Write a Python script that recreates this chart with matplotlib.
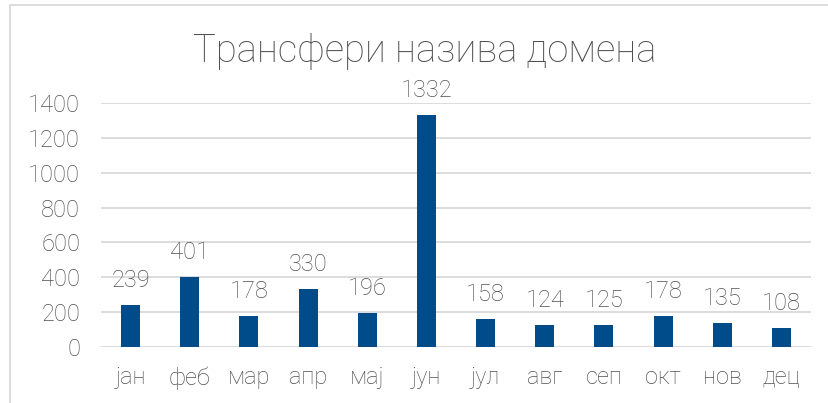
import matplotlib
matplotlib.use("Agg")
import matplotlib.pyplot as plt
from matplotlib.patches import Rectangle

plt.rcParams['font.family'] = ['Roboto', 'DejaVu Sans']
plt.rcParams['font.weight'] = 'light'

# подаци
months = ["јан", "феб", "мар", "апр", "мај", "јун", "јул", "авг", "сеп", "окт", "нов", "дец"]
transfers = [239, 401, 178, 330, 196, 1332, 158, 124, 125, 178, 135, 108]
yticks = [0, 200, 400, 600, 800, 1000, 1200, 1400]

barColor = "#004C8A"
textColor = "#505050"
gridColor = "#D9D9D9"

fig = plt.figure(figsize=(8.29, 4.03), dpi=100)
ax = fig.add_axes([101/829, 1-347/403, 710/829, 244/403])

x = list(range(len(months)))
ax.bar(x, transfers, width=0.32, color=barColor, zorder=3)
for xi, v in zip(x, transfers):
    ax.annotate(str(v), (xi, v), xytext=(0, 13), textcoords="offset points",
                ha="center", va="baseline", fontsize=17, color=textColor,
                annotation_clip=False)

ax.set_xlim(-0.5, len(months)-0.5)
ax.set_ylim(0, 1400)
ax.set_yticks(yticks)
ax.set_xticks(x)
ax.set_xticklabels(months)
ax.tick_params(axis="both", length=0, labelsize=17, labelcolor=textColor)
ax.tick_params(axis="y", pad=15)
ax.tick_params(axis="x", pad=14)
ax.grid(axis="y", color=gridColor, linewidth=1.3, zorder=0)
for s in ax.spines.values():
    s.set_visible(False)

fig.text(425/829, 1-62/403, "Трансфери назива домена", ha="center", va="baseline",
         fontsize=27.5, color=textColor)

# рамка графикона
fig.patches.append(Rectangle((10/829, -0.1), 1.2, 1-5/403+0.1, transform=fig.transFigure,
                             fill=False, edgecolor=gridColor, linewidth=1.3))

fig.savefig("out.png", dpi=100)
